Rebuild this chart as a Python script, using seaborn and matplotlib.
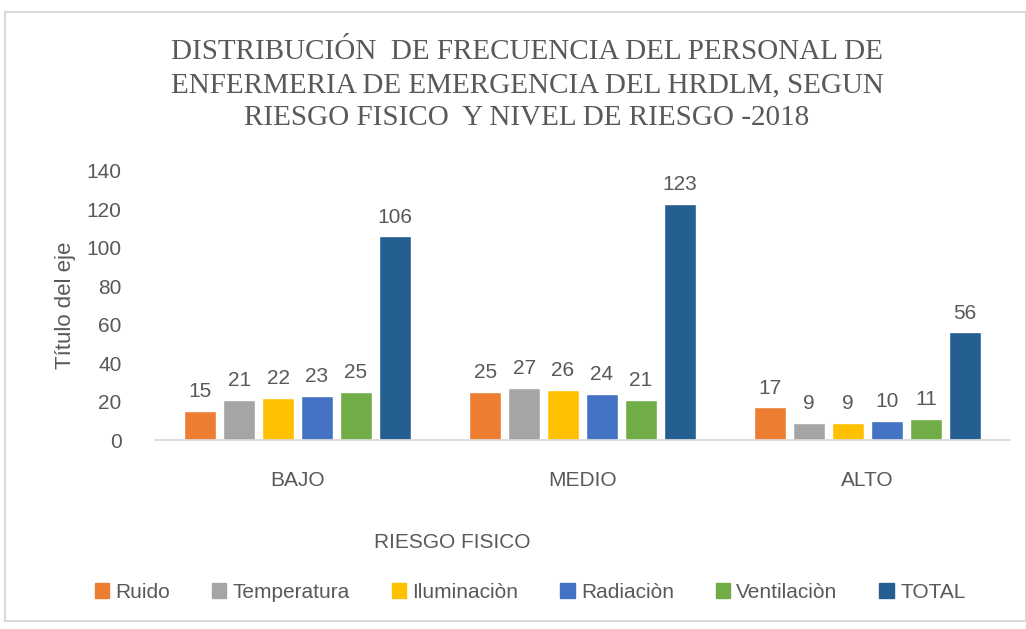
import matplotlib
matplotlib.use("Agg")
import matplotlib.pyplot as plt
import seaborn as sns
import pandas as pd
from matplotlib.patches import Rectangle

categories = ["BAJO", "MEDIO", "ALTO"]
series_names = ["Ruido", "Temperatura", "Iluminaciòn", "Radiaciòn", "Ventilaciòn", "TOTAL"]
ruido = [15, 25, 17]
temperatura = [21, 27, 9]
iluminacion = [22, 26, 9]
radiacion = [23, 24, 10]
ventilacion = [25, 21, 11]
total = [106, 123, 56]
colors = ["#ED7D31", "#A5A5A5", "#FFC000", "#4472C4", "#70AD47", "#255E91"]

values = [ruido, temperatura, iluminacion, radiacion, ventilacion, total]
rows = []
for name, vals in zip(series_names, values):
    for c, v in zip(categories, vals):
        rows.append({"cat": c, "serie": name, "val": v})
df = pd.DataFrame(rows)

sns.set_theme(style="white")
plt.rcParams["font.family"] = ["Liberation Sans", "DejaVu Sans"]
txt = "#595959"

fig = plt.figure(figsize=(10.26, 6.29), dpi=100)
ax = fig.add_axes([155/1026, 1-440/629, (1010-155)/1026, (440-171)/629])

sns.barplot(data=df, x="cat", y="val", hue="serie", order=categories,
            hue_order=series_names, palette=colors, width=0.82, gap=0.17,
            ax=ax, legend=False, saturation=1)

for cont in ax.containers:
    ax.bar_label(cont, padding=7, fontsize=15, color=txt)

ax.set_ylim(0, 140)
ax.set_yticks(range(0, 141, 20))
ax.tick_params(axis="both", labelsize=15, colors=txt, length=0)
ax.tick_params(axis="x", pad=22)
ax.tick_params(axis="y", pad=24)
for s in ["top", "right", "left"]:
    ax.spines[s].set_visible(False)
ax.spines["bottom"].set_color("#D9D9D9")
ax.set_xlabel("")
ax.set_ylabel("")

fig.text(65/1026, 1-305/629, "Título del eje", rotation=90, ha="center", va="center",
         fontsize=16, color=txt)
fig.text(452/1026, 1-543/629, "RIESGO FISICO", ha="center", va="center",
         fontsize=15, color=txt)
fig.text(527/1026, 1-85/629,
         "DISTRIBUCIÓN  DE FRECUENCIA DEL PERSONAL DE\nENFERMERIA DE EMERGENCIA DEL HRDLM, SEGUN\nRIESGO FISICO  Y NIVEL DE RIESGO -2018",
         ha="center", va="center", fontsize=21, color=txt, family="Liberation Serif",
         linespacing=1.35)

handles = [Rectangle((0, 0), 1, 1, color=c) for c in colors]
fig.legend(handles, series_names, loc="center", bbox_to_anchor=(530/1026, 1-592/629),
           ncol=6, frameon=False, fontsize=15, handlelength=0.7, handleheight=0.7,
           handletextpad=0.3, columnspacing=2.0, labelcolor=txt)

border = Rectangle((5/1026, 8/629), 1 - 5/1026, 1 - 20/629, transform=fig.transFigure,
                   fill=False, edgecolor="#D9D9D9", linewidth=1.5)
fig.patches.append(border)

fig.savefig("out.png", dpi=100)
